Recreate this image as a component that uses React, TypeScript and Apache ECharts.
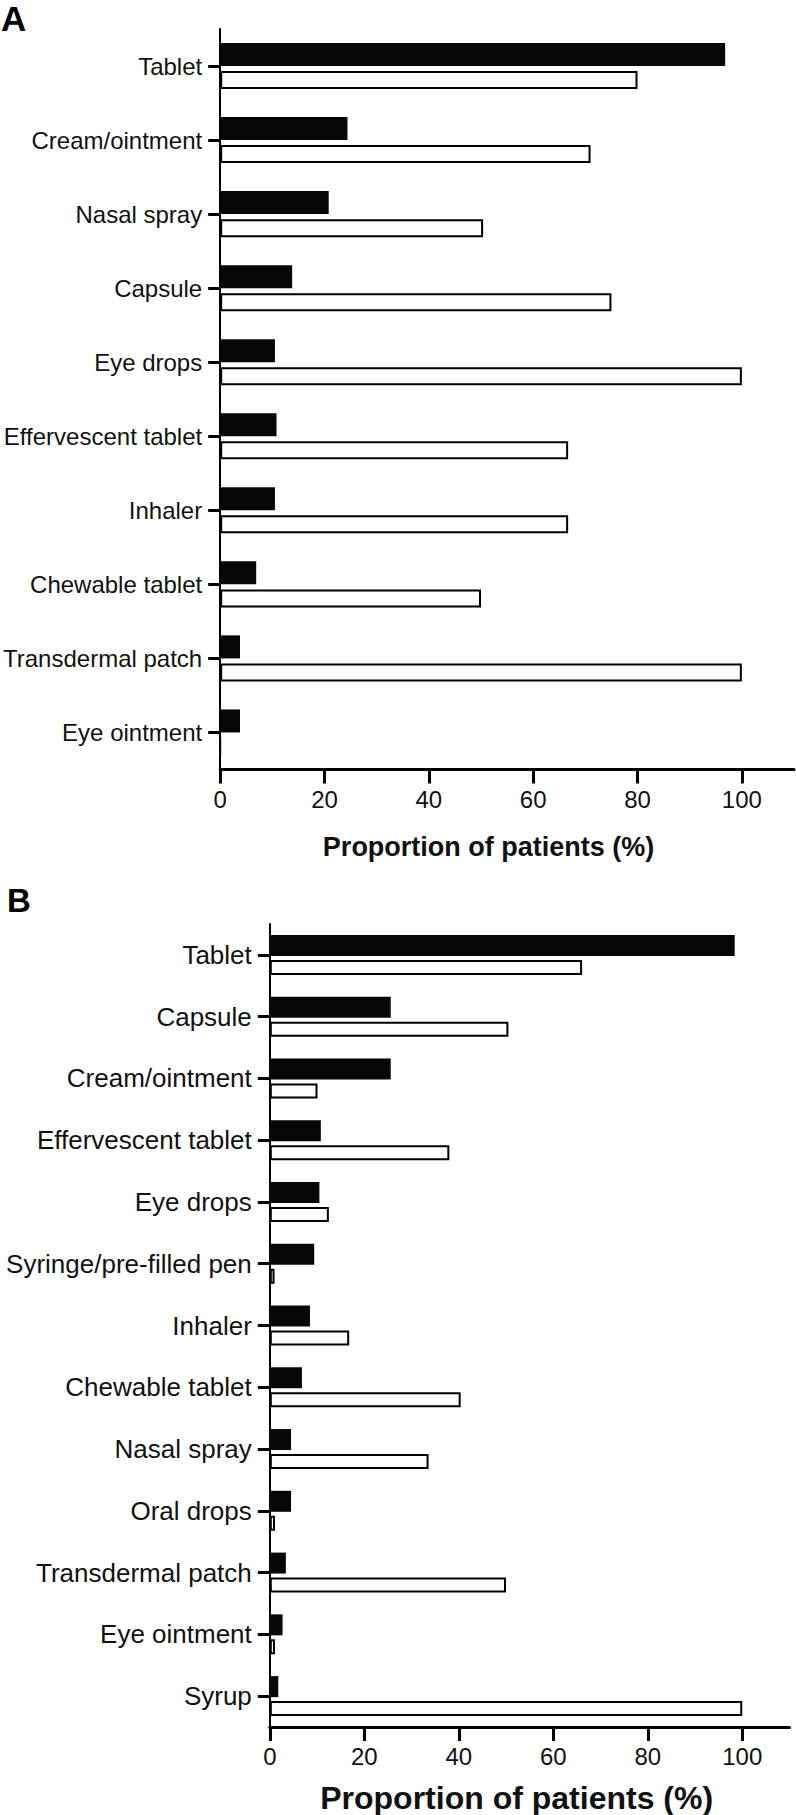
import React, { useEffect, useRef } from "react";
import * as echarts from "echarts";

const categoriesA = [
  "Tablet",
  "Cream/ointment",
  "Nasal spray",
  "Capsule",
  "Eye drops",
  "Effervescent tablet",
  "Inhaler",
  "Chewable tablet",
  "Transdermal patch",
  "Eye ointment",
];
const blackA = [96.8, 24.4, 20.8, 13.8, 10.5, 10.8, 10.5, 6.9, 3.8, 3.8];
const whiteA = [80, 71, 50.4, 75, 100, 66.7, 66.7, 50, 100, 0];

const categoriesB = [
  "Tablet",
  "Capsule",
  "Cream/ointment",
  "Effervescent tablet",
  "Eye drops",
  "Syringe/pre-filled pen",
  "Inhaler",
  "Chewable tablet",
  "Nasal spray",
  "Oral drops",
  "Transdermal patch",
  "Eye ointment",
  "Syrup",
];
const blackB = [98.4, 25.6, 25.6, 10.8, 10.5, 9.4, 8.5, 6.8, 4.5, 4.5, 3.4, 2.7, 1.8];
const whiteB = [66.1, 50.5, 10.1, 38.0, 12.5, 1.0, 16.8, 40.4, 33.6, 1.1, 50.0, 1.1, 100];

const xTicks = [0, 20, 40, 60, 80, 100];
const panelLabels = ["A", "B"];
const axisTitle = "Proportion of patients (%)";

const FONT = "'Liberation Sans', Arial, Helvetica, sans-serif";

export default function App() {
  const ref = useRef<HTMLDivElement>(null);

  useEffect(() => {
    if (!ref.current) return;
    const chart = echarts.init(ref.current, null, { renderer: "svg" });

    const valueAxis = (gridIndex: number, labelMargin: number, nameGap: number, nameFont: number, padRight: number) => ({
      type: "value",
      gridIndex,
      min: 0,
      max: 110,
      interval: 20,
      splitLine: { show: false },
      axisLine: { show: true, lineStyle: { color: "#000", width: 3 } },
      axisTick: {
        show: true,
        length: 14,
        customValues: xTicks,
        lineStyle: { color: "#000", width: 3 },
      },
      axisLabel: {
        customValues: xTicks,
        margin: labelMargin,
        color: "#111",
        fontSize: 24,
        fontFamily: FONT,
      },
      name: axisTitle,
      nameLocation: "middle",
      nameGap,
      nameTextStyle: {
        color: "#111",
        fontSize: nameFont,
        fontWeight: "bold",
        fontFamily: FONT,
        padding: [0, padRight, 0, 0],
      },
    });

    const catAxis = (gridIndex: number, data: string[], fontSize: number) => ({
      type: "category",
      gridIndex,
      data,
      inverse: true,
      axisLine: { show: true, lineStyle: { color: "#000", width: 2 } },
      axisTick: {
        show: true,
        alignWithLabel: true,
        length: 12,
        lineStyle: { color: "#000", width: 3 },
      },
      axisLabel: {
        margin: 18,
        color: "#111",
        fontSize,
        fontFamily: FONT,
      },
    });

    chart.setOption({
      animation: false,
      backgroundColor: "#fff",
      textStyle: { fontFamily: FONT },
      grid: [
        { left: 219, top: 29, width: 575, height: 740.5, containLabel: false },
        { left: 269.8, top: 924, width: 519.7, height: 807.5, containLabel: false },
      ],
      xAxis: [valueAxis(0, 18, 64, 27, 37), valueAxis(1, 17, 55, 32, 26)],
      yAxis: [catAxis(0, categoriesA, 24), catAxis(1, categoriesB, 26)],
      graphic: [
        {
          type: "text",
          left: 1,
          top: 1,
          style: { text: panelLabels[0], fontSize: 35, fontWeight: "bold", fontFamily: FONT, fill: "#000" },
        },
        {
          type: "text",
          left: 7,
          top: 884,
          style: { text: panelLabels[1], fontSize: 33, fontWeight: "bold", fontFamily: FONT, fill: "#000" },
        },
      ],
      series: [
        {
          name: "Group 1 (A)",
          type: "bar",
          xAxisIndex: 0,
          yAxisIndex: 0,
          data: blackA,
          barWidth: 23,
          barGap: "22%",
          itemStyle: { color: "#050709" },
        },
        {
          name: "Group 2 (A)",
          type: "bar",
          xAxisIndex: 0,
          yAxisIndex: 0,
          data: whiteA,
          barWidth: 18,
          barGap: "22%",
          itemStyle: { color: "#fff", borderColor: "#000", borderWidth: 2 },
        },
        {
          name: "Group 1 (B)",
          type: "bar",
          xAxisIndex: 1,
          yAxisIndex: 1,
          data: blackB,
          barWidth: 21,
          barGap: "19%",
          itemStyle: { color: "#050709" },
        },
        {
          name: "Group 2 (B)",
          type: "bar",
          xAxisIndex: 1,
          yAxisIndex: 1,
          data: whiteB,
          barWidth: 15,
          barGap: "19%",
          itemStyle: { color: "#fff", borderColor: "#000", borderWidth: 2 },
        },
      ],
    });

    return () => chart.dispose();
  }, []);

  return (
    <div
      ref={ref}
      style={{ position: "absolute", left: 0, top: 0, width: 796, height: 1815, background: "#fff" }}
    />
  );
}
